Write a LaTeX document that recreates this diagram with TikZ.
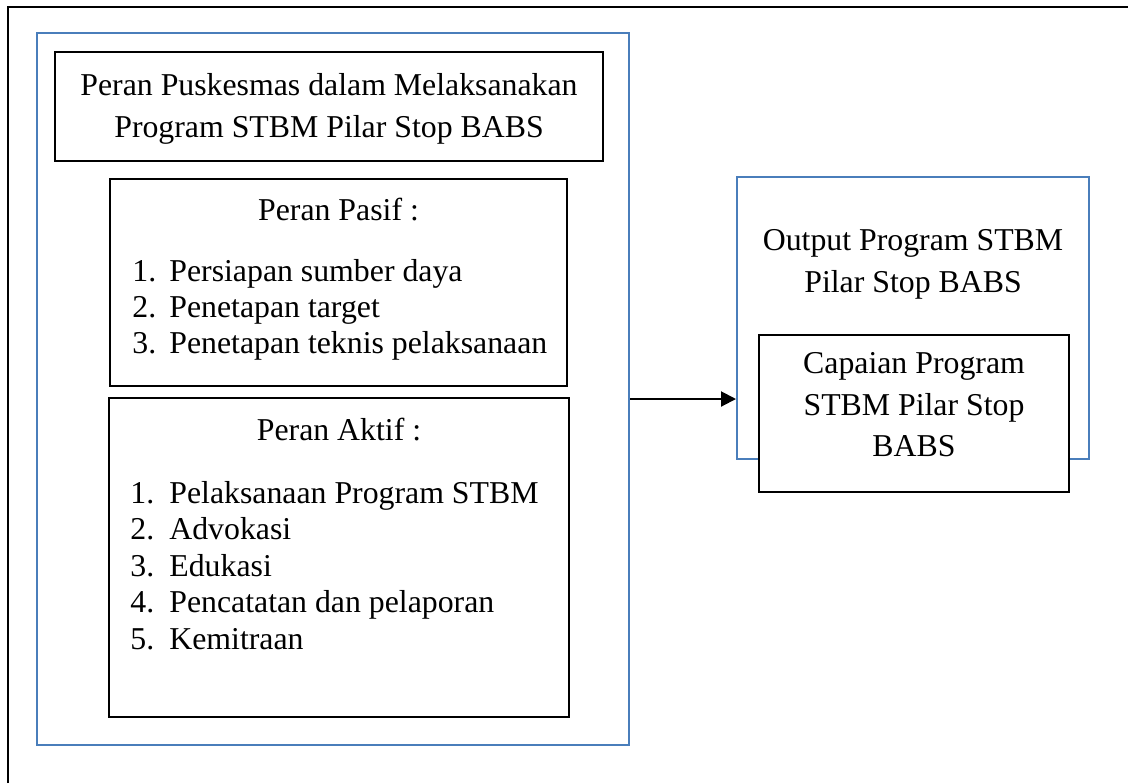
\documentclass[tikz,border=0pt]{standalone}
\usepackage{fontspec}
\setmainfont{Liberation Serif}
\usetikzlibrary{arrows.meta}
\definecolor{frameblue}{RGB}{74,126,187}
\begin{document}
\begin{tikzpicture}[x=0.5pt,y=-0.5pt,
  blackbox/.style={draw=black, line width=1.3pt, fill=white, inner sep=0pt, rectangle},
  bluebox/.style={draw=frameblue, line width=1pt, inner sep=0pt, rectangle},
  txt/.style={inner sep=0pt, anchor=base, font=\fontsize{15.9pt}{18pt}\selectfont},
  item/.style={txt, anchor=base west},
  flow/.style={-{Triangle[length=7.5pt,width=7.5pt]}, line width=1pt}
]
\useasboundingbox (0,0) rectangle (1128,783);

% page frame (left and top edges)
\draw[line width=1.3pt] (8,783) -- (8,7) -- (1128,7);

% left group: role of the Puskesmas
\node[bluebox, minimum width=296pt, minimum height=356pt] (roles) at (333,389) {};
\node[blackbox, minimum width=274pt, minimum height=54.5pt] (title) at (329,106.5) {};
\node[txt] (title1) at (329,95) {Peran Puskesmas dalam Melaksanakan};
\node[txt] (title2) at (329,137) {Program STBM Pilar Stop BABS};

\node[blackbox, minimum width=228.5pt, minimum height=103.5pt] (pasif) at (338.5,282.5) {};
\node[txt] (pasifhead) at (338.5,220) {Peran Pasif :};
\foreach \n/\t [count=\i] in {1/Persiapan sumber daya, 2/Penetapan target, 3/Penetapan teknis pelaksanaan}
  \node[item] (pasif\i) at (132,{281+36*(\i-1)}) {\makebox[18.5pt][l]{\n.}\t};

\node[blackbox, minimum width=230pt, minimum height=159.5pt] (aktif) at (339,557.5) {};
\node[txt] (aktifhead) at (339,440) {Peran Aktif :};
\foreach \n/\t [count=\i] in {1/Pelaksanaan Program STBM, 2/Advokasi, 3/Edukasi, 4/Pencatatan dan pelaporan, 5/Kemitraan}
  \node[item] (aktif\i) at (130,{503+36.5*(\i-1)}) {\makebox[19.5pt][l]{\n.}\t};

% right group: programme output
\node[bluebox, minimum width=176pt, minimum height=141pt] (output) at (913,318) {};
\node[txt] (output1) at (913,250) {Output Program STBM};
\node[txt] (output2) at (913,292) {Pilar Stop BABS};

\node[blackbox, minimum width=155pt, minimum height=78.5pt] (capaian) at (914,413.5) {};
\node[txt] (capaian1) at (914,373) {Capaian Program};
\node[txt] (capaian2) at (914,415) {STBM Pilar Stop};
\node[txt] (capaian3) at (914,456) {BABS};

% connector
\coordinate (arrowlevel) at (0,399);
\draw[flow] (roles.east |- arrowlevel) -- (output.west |- arrowlevel);
\end{tikzpicture}
\end{document}
